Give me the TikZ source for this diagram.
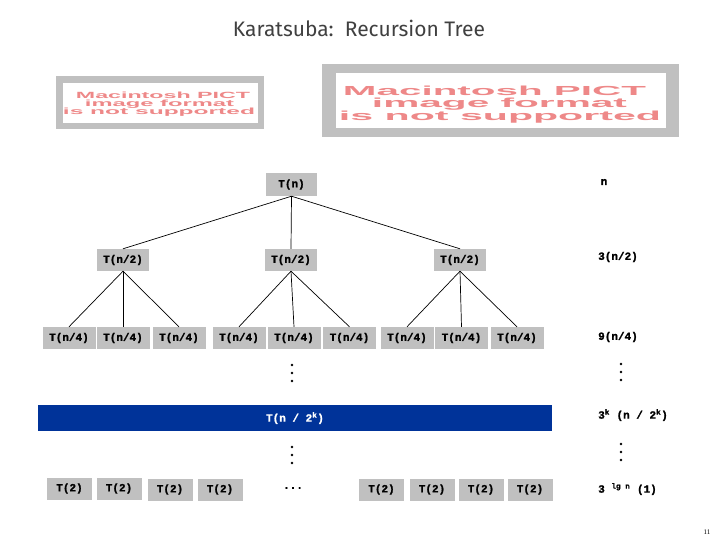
\documentclass[tikz,border=0pt]{standalone}
\usepackage{fontspec}
\usepackage{graphicx}
\setmainfont{Liberation Serif}
\newfontfamily\boxfont{Liberation Mono}[BoldFeatures={FakeBold=1.5}]
\newfontfamily\titlefont{Fira Sans}
\newfontfamily\pictfont{Liberation Sans}
\definecolor{boxgray}{HTML}{C0C0C0}
\definecolor{kblue}{HTML}{003399}
\definecolor{titlegray}{HTML}{404040}
\definecolor{pictred}{HTML}{EE8888}
\tikzset{
  tbox/.style={fill=boxgray, inner sep=0pt, minimum width=52pt, minimum height=22pt,
    font={\boxfont\bfseries\fontsize{11}{13}\selectfont}},
  tfour/.style={tbox, minimum width=53pt},
  ttwo/.style={tbox, minimum width=45pt},
  edge/.style={draw=black, line width=0.7pt},
  lbl/.style={anchor=west, inner sep=0pt, font={\boxfont\bfseries\fontsize{11}{13}\selectfont}},
  pict/.style={inner sep=0pt, text=pictred, font={\pictfont\bfseries}}
}
\newcommand\vdotsat[2]{%
  \fill (#1,#2-8) circle (1.3);
  \fill (#1,#2) circle (1.3);
  \fill (#1,#2+8) circle (1.3);}
\begin{document}
\begin{tikzpicture}[x=1pt,y=-1pt]
\useasboundingbox (0,0) rectangle (720,540);
% title
\node[font={\titlefont\fontsize{21}{21}\selectfont}, text=titlegray, inner sep=0pt] (title) at (359,28) {Karatsuba:\ \ Recursion Tree};
% PICT placeholders
\fill[boxgray] (56,76) rectangle (264,129);
\fill[white] (63,83) rectangle (258,123);
\node[pict] (pl1) at (163,95) {\resizebox{174pt}{6.5pt}{Macintosh PICT}};
\node[pict] (pl2) at (159.5,104) {\resizebox{149pt}{6.5pt}{image format}};
\node[pict] (pl3) at (159,112.5) {\resizebox{192pt}{6.5pt}{is not supported}};
\fill[boxgray] (322,64) rectangle (679,137);
\fill[white] (336,73) rectangle (666,128);
\node[pict] (pr1) at (494.5,91) {\resizebox{303pt}{9.5pt}{Macintosh PICT}};
\node[pict] (pr2) at (499.5,104) {\resizebox{255pt}{9.5pt}{image format}};
\node[pict] (pr3) at (500,117) {\resizebox{322pt}{9.5pt}{is not supported}};
% tree
\node[tbox, minimum width=51pt, minimum height=23pt] (r) at (291.5,184.5) {T(n)};
\node[tbox] (a) at (123,260) {T(n/2)};
\node[tbox] (b) at (291,260) {T(n/2)};
\node[tbox] (c) at (460,260) {T(n/2)};
\node[tfour] (a1) at (69,338) {T(n/4)};
\node[tfour] (a2) at (123,338) {T(n/4)};
\node[tfour] (a3) at (179,338) {T(n/4)};
\node[tfour] (b1) at (239,338) {T(n/4)};
\node[tfour] (b2) at (294,338) {T(n/4)};
\node[tfour] (b3) at (349.5,338) {T(n/4)};
\node[tfour] (c1) at (407,338) {T(n/4)};
\node[tfour] (c2) at (461.5,338) {T(n/4)};
\node[tfour] (c3) at (517,338) {T(n/4)};
\foreach \ch in {a,b,c} \draw[edge] (r.south) -- (\ch.north);
\foreach \p in {a,b,c}
  \foreach \i in {1,2,3} \draw[edge] (\p.south) -- (\p\i.north);
% vertical dots
\vdotsat{292}{373}
\vdotsat{292}{455}
\vdotsat{621}{372}
\vdotsat{621}{452}
% blue level
\node[fill=kblue, minimum width=514pt, minimum height=26pt, inner sep=0pt, text=white,
  font={\boxfont\bfseries\fontsize{11}{13}\selectfont}] (bar) at (295,418) {T(n / 2\textsuperscript{k})};
% leaves
\node[ttwo] (l1) at (69.5,488.5) {T(2)};
\node[ttwo] (l2) at (119,488.5) {T(2)};
\node[ttwo] (l3) at (170,489.5) {T(2)};
\node[ttwo] (l4) at (220,489.5) {T(2)};
\node[inner sep=0pt, font={\boxfont\bfseries\fontsize{11}{13}\selectfont}] (ell) at (293,488) {...};
\node[ttwo] (l5) at (381.5,489.5) {T(2)};
\node[ttwo] (l6) at (432,489.5) {T(2)};
\node[ttwo] (l7) at (481,489.5) {T(2)};
\node[ttwo] (l8) at (530,489.5) {T(2)};
% right column
\node[lbl, anchor=center] (s0) at (604,182) {n};
\node[lbl] (s1) at (598,257) {3(n/2)};
\node[lbl] (s2) at (598,337) {9(n/4)};
\node[lbl] (s3) at (598,415) {3\textsuperscript{k} (n / 2\textsuperscript{k})};
\node[lbl] (s4) at (598,489) {3 \textsuperscript{lg n} (1)};
% page number
\node[inner sep=0pt, font={\fontsize{7}{7}\selectfont}] (pg) at (707,532) {11};
\end{tikzpicture}
\end{document}
